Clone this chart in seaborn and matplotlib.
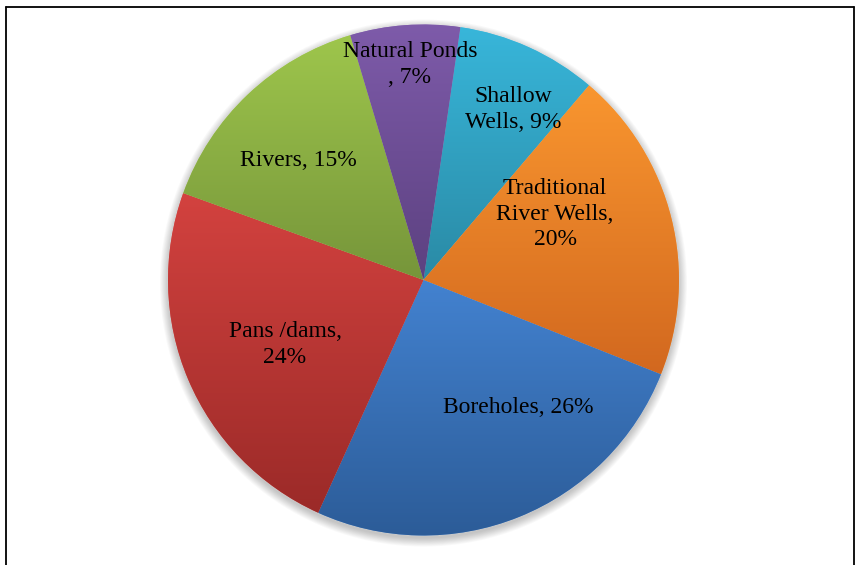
import numpy as np
import matplotlib
matplotlib.use("Agg")
import matplotlib.pyplot as plt
from matplotlib.patches import Circle
from matplotlib.lines import Line2D
import seaborn as sns

# ── Data ──────────────────────────────────────────────────────────────────────
sources = ["Shallow Wells", "Traditional River Wells", "Boreholes",
           "Pans /dams", "Rivers", "Natural Ponds"]
shares = [9, 20, 26, 24, 15, 7]
labels = ["Shallow\nWells, 9%", "Traditional\nRiver Wells,\n20%", "Boreholes, 26%",
          "Pans /dams,\n24%", "Rivers, 15%", "Natural Ponds\n, 7%"]

# gradient (top -> bottom) per slice, Excel-like
top_colors = ["#38B6DA", "#F9962F", "#4382D0", "#D3423F", "#9EC64C", "#7E5BAA"]
bottom_colors = ["#2A8AA5", "#D2681F", "#2C5C98", "#9B2A28", "#76953A", "#5C4180"]

# label centres in pie-radius units (layout)
label_pos = [(0.35, 0.667), (0.515, 0.258), (0.37, -0.50),
             (-0.542, -0.254), (-0.491, 0.466), (-0.053, 0.845)]

# ── Figure ────────────────────────────────────────────────────────────────────
sns.set_theme(style="white")
plt.rcParams["font.family"] = ["Liberation Serif", "DejaVu Serif"]

W, H = 858, 565
cx, cy, R = 423.5, 280, 255.5
fig = plt.figure(figsize=(W / 100, H / 100), dpi=100)
ax = fig.add_axes([0, 0, 1, 1])
xlim = (-cx / R, (W - cx) / R)
ylim = (-(H - cy) / R, cy / R)

# soft shadow under the pie
for i in range(10):
    ax.add_patch(Circle((0, -0.012), 1.0 + i * 0.0035, color="black",
                        alpha=0.025, lw=0, zorder=0))

wedges, _ = ax.pie(shares, startangle=81.7, counterclock=False, radius=1,
                   wedgeprops=dict(linewidth=0.4, edgecolor="#ffffff55"))

grad = np.linspace(0, 1, 256).reshape(-1, 1)
for w, ctop, cbot in zip(wedges, top_colors, bottom_colors):
    w.set_facecolor(ctop)
    w.set_zorder(1)
    verts = w.get_path().vertices
    x0, x1 = verts[:, 0].min(), verts[:, 0].max()
    y0, y1 = verts[:, 1].min(), verts[:, 1].max()
    cmap = sns.blend_palette([ctop, cbot], as_cmap=True)
    im = ax.imshow(grad, cmap=cmap, extent=(x0, x1, y0, y1), aspect="auto",
                   interpolation="bilinear", zorder=2)
    im.set_clip_path(w)

for (lx, ly), txt in zip(label_pos, labels):
    ax.text(lx, ly, txt, ha="center", va="center", fontsize=17,
            linespacing=1.3, color="black", zorder=5)

ax.set_xlim(*xlim)
ax.set_ylim(*ylim)
ax.set_aspect("auto")
ax.axis("off")

# chart frame (bottom edge runs off the image)
for xs, ys in [([5.5, 5.5], [-10, 6.5]), ([5.5, 853.5], [6.5, 6.5]),
               ([853.5, 853.5], [6.5, -10])]:
    fig.add_artist(Line2D([x / W for x in xs], [1 - y / H if y >= 0 else -0.02 for y in ys],
                          transform=fig.transFigure, color="black", lw=1.3))

plt.savefig("out.png", dpi=100)
plt.close()
